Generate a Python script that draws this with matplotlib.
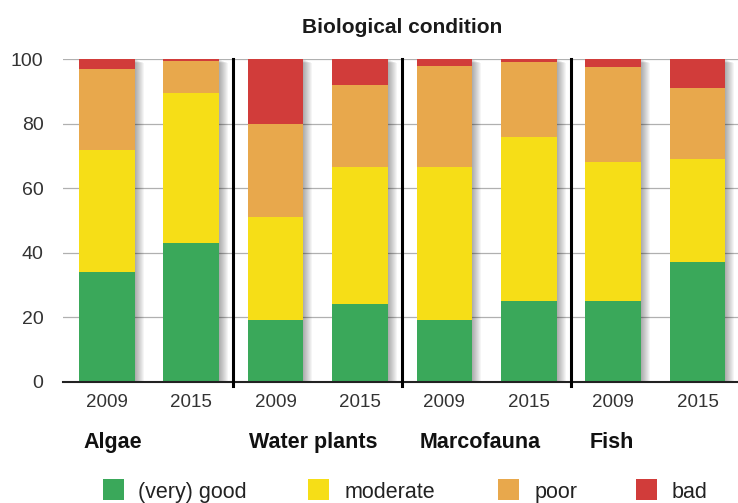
import matplotlib
matplotlib.use("Agg")
import matplotlib.pyplot as plt
from matplotlib.patches import Rectangle
import numpy as np

plt.rcParams['font.family'] = ['Liberation Sans', 'DejaVu Sans']

groups = ["Algae", "Water plants", "Marcofauna", "Fish"]
years = ["2009", "2015"]
good = [34, 43, 19, 24, 19, 25, 25, 37]
moderate = [38, 46.5, 32, 42.5, 47.5, 51, 43, 32]
poor = [25, 10, 29, 25.5, 31.5, 23, 29.5, 22]
bad = [3, 0.5, 20, 8, 2, 1, 2.5, 9]
series_names = ["(very) good", "moderate", "poor", "bad"]
colors = ["#3aa85a", "#f6de17", "#e8a84c", "#d13c3a"]

series = [good, moderate, poor, bad]
x = np.arange(len(good))
width = 0.66

fig = plt.figure(figsize=(7.38, 5.03), dpi=100)
ax = fig.add_axes([0.0854, 0.2412, 0.9146, 0.641])
ax.set_xlim(-0.52, 7.48)
ax.set_ylim(0, 100)

# soft drop shadow behind each stack
totals = np.sum(series, axis=0)
px = 1 / 84.4
for k in range(1, 10):
    ax.bar(x + k * px, totals, width, bottom=-k * 0.12, color="black",
           alpha=0.04, zorder=1, linewidth=0)

bottom = np.zeros(len(good))
for vals, c, name in zip(series, colors, series_names):
    ax.bar(x, vals, width, bottom=bottom, color=c, zorder=3,
           linewidth=0, label=name)
    bottom += np.array(vals)

ax.set_yticks([0, 20, 40, 60, 80, 100])
ax.tick_params(axis='y', length=0, labelsize=14, labelcolor="#333333", pad=14)
ax.yaxis.grid(True, color="#b0b0b0", linewidth=0.9, zorder=0)
ax.set_axisbelow(True)

ax.set_xticks(x)
ax.set_xticklabels(years * len(groups))
ax.tick_params(axis='x', length=0, labelsize=13.5, labelcolor="#333333", pad=9)

for s in ["top", "right", "left"]:
    ax.spines[s].set_visible(False)
ax.spines["bottom"].set_color("#222222")
ax.spines["bottom"].set_linewidth(1.5)
ax.spines["bottom"].set_zorder(5)

for sep in [1.5, 3.5, 5.5]:
    ax.plot([sep, sep], [-1.2, 100], color="black", linewidth=2.2,
            zorder=6, clip_on=False)

W, H = 738, 503
fig.text(402 / W, 1 - 33 / H, "Biological condition", ha="center",
         va="baseline", fontsize=15, fontweight="bold", color="#1a1a1a")

label_x = [83, 249, 420, 590]
for g, gx in zip(groups, label_x):
    fig.text(gx / W, 1 - 448 / H, g, ha="left", va="baseline",
             fontsize=15.5, fontweight="bold", color="#111111")

sq_x = [103, 308, 498, 636]
txt_x = [138, 345, 535, 672]
for name, c, sx, tx in zip(series_names, colors, sq_x, txt_x):
    fig.patches.append(Rectangle((sx / W, 1 - 500 / H), 21 / W, 21 / H,
                                 transform=fig.transFigure, color=c,
                                 linewidth=0))
    fig.text(tx / W, 1 - 498 / H, name, ha="left", va="baseline",
             fontsize=15.5, color="#222222")

fig.savefig("out.png", dpi=100)
